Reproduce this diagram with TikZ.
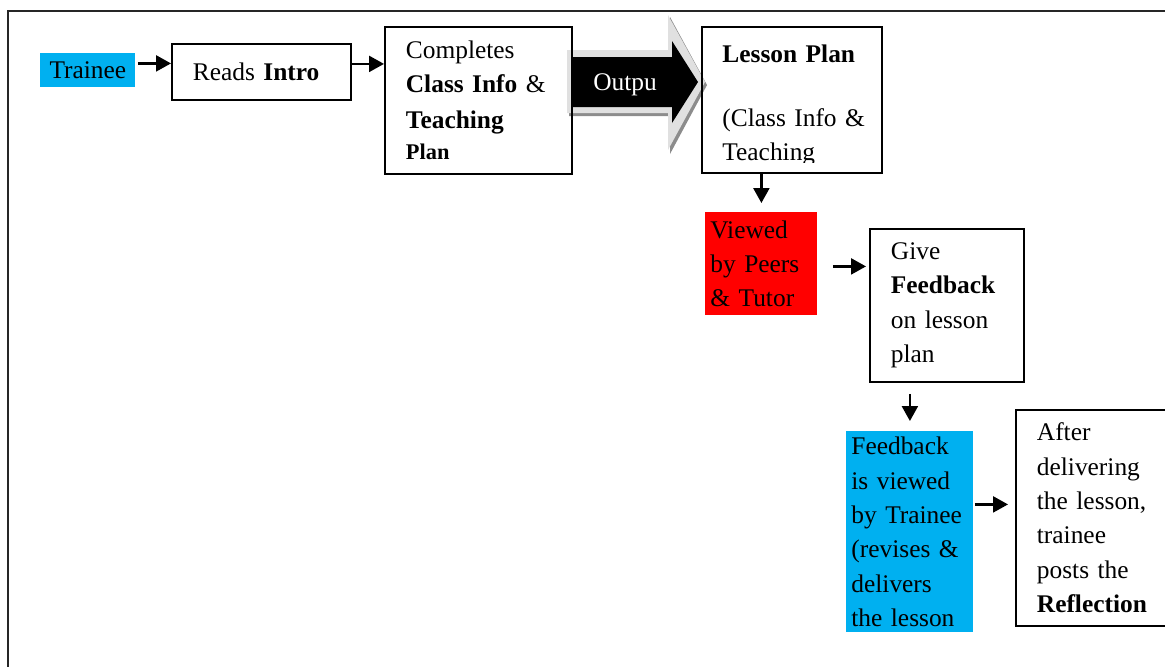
\documentclass[tikz,border=0pt]{standalone}
\usepackage{fontspec}
\setmainfont{Liberation Serif}
\usetikzlibrary{arrows.meta,calc}
\newcommand{\boxfont}{\fontsize{12.7pt}{17.15pt}\selectfont}
\definecolor{traineeblue}{RGB}{0,176,240}
\definecolor{peerred}{RGB}{255,0,0}
\tikzset{
  plainbox/.style={draw, line width=0.9pt, align=left, font=\boxfont, inner xsep=10.5pt, inner ysep=2pt},
  bluebox/.style={fill=traineeblue, align=left, font=\boxfont, inner xsep=2.5pt, inner ysep=1pt},
  redbox/.style={fill=peerred, align=left, font=\boxfont, inner xsep=2.5pt, inner ysep=1pt},
  flow/.style={-{Triangle[length=7.5pt,width=8pt]}, line width=1.15pt},
}
\begin{document}
\begin{tikzpicture}[x=0.5pt,y=0.5pt,yscale=-1,xscale=1]
\clip (0,0) rectangle (1165,666);
%Frame
\draw [line width=1.2pt, black!85] (8,11) rectangle (1190,690);

%Shape: Output block arrow
\fill [black!45] (569,52) -- (670,52) -- (670,17) -- (707,85) -- (670,154) -- (670,116) -- (569,116) -- cycle;
\fill [black!12] (567,50) -- (668,50) -- (668,15) -- (705,82) -- (668,150) -- (668,113) -- (567,113) -- cycle;
\fill [black] (573,57) -- (672,57) -- (672,41) -- (698,82) -- (672,123) -- (672,107) -- (573,107) -- cycle;
\node (outlabel) [text=white, font=\boxfont, inner sep=0pt] at (625,85) {Outpu};

% Boxes
\node (trainee) [bluebox, anchor=north west, minimum width=47.5pt, minimum height=17pt, align=center, inner xsep=0pt] at (40,53) {Trainee};
\node (reads) [plainbox, anchor=north west, text width=68.5pt, minimum height=28pt] at (171,43) {Reads \textbf{Intro}};
\node (completes) [plainbox, anchor=north west, text width=72.5pt, minimum height=73.5pt] at (384,26) {Completes\\\textbf{Class Info} \&\\[0.5pt]\textbf{Teaching}\\[-1.5pt]{\fontsize{11.2pt}{13pt}\selectfont\textbf{Plan}}};
\node (lesson) [plainbox, anchor=north west, minimum width=90pt, minimum height=73pt] at (701,26) {};
\begin{scope}
\clip (lesson.north west) rectangle ($(lesson.south east)+(0,-11)$);
\node (lessonplan) [anchor=base west, font=\boxfont, align=left, text width=75pt, inner sep=0pt] at (722,62) {\textbf{Lesson Plan}\\[14.9pt](Class Info \&\\Teaching};
\end{scope}
\node (viewed) [redbox, anchor=north west, text width=51pt, minimum width=56pt, minimum height=51.5pt] at (705,212) {Viewed\\by Peers\\\& Tutor};
\node (give) [plainbox, anchor=north west, text width=56pt, minimum height=76.5pt] at (869,228) {Give\\\textbf{Feedback}\\on lesson\\plan};
\node (feedback) [bluebox, anchor=north west, text width=58.5pt, minimum height=100.5pt] at (846,431) {Feedback\\is viewed\\by Trainee\\(revises \&\\delivers\\the lesson};
\node (after) [plainbox, anchor=north west, text width=61.5pt, minimum height=108pt] at (1015,409) {After\\delivering\\the lesson,\\trainee\\posts the\\\textbf{Reflection}};

% Connectors
\draw [flow] ($(trainee.east)+(2,-7)$) -- ($(trainee.east -| reads.west)+(0,-7)$);
\draw [flow] ($(reads.east)+(0,-8)$) -- ($(reads.east -| completes.west)+(0,-8)$);
\draw [flow, shorten >=4.5pt] (lesson.south -| viewed.north) -- (viewed.north);
\draw [flow] ($(viewed.east)+(15,2.5)$) -- ($(viewed.east -| give.west)+(-3,2.5)$);
\draw [flow] ($(give.south -| feedback.north)+(0,11)$) -- ($(feedback.north)+(0,-10)$);
\draw [flow] ($(feedback.east)+(1,-27.5)$) -- ($(feedback.east -| after.west)+(-7,-27.5)$);

\end{tikzpicture}
\end{document}
